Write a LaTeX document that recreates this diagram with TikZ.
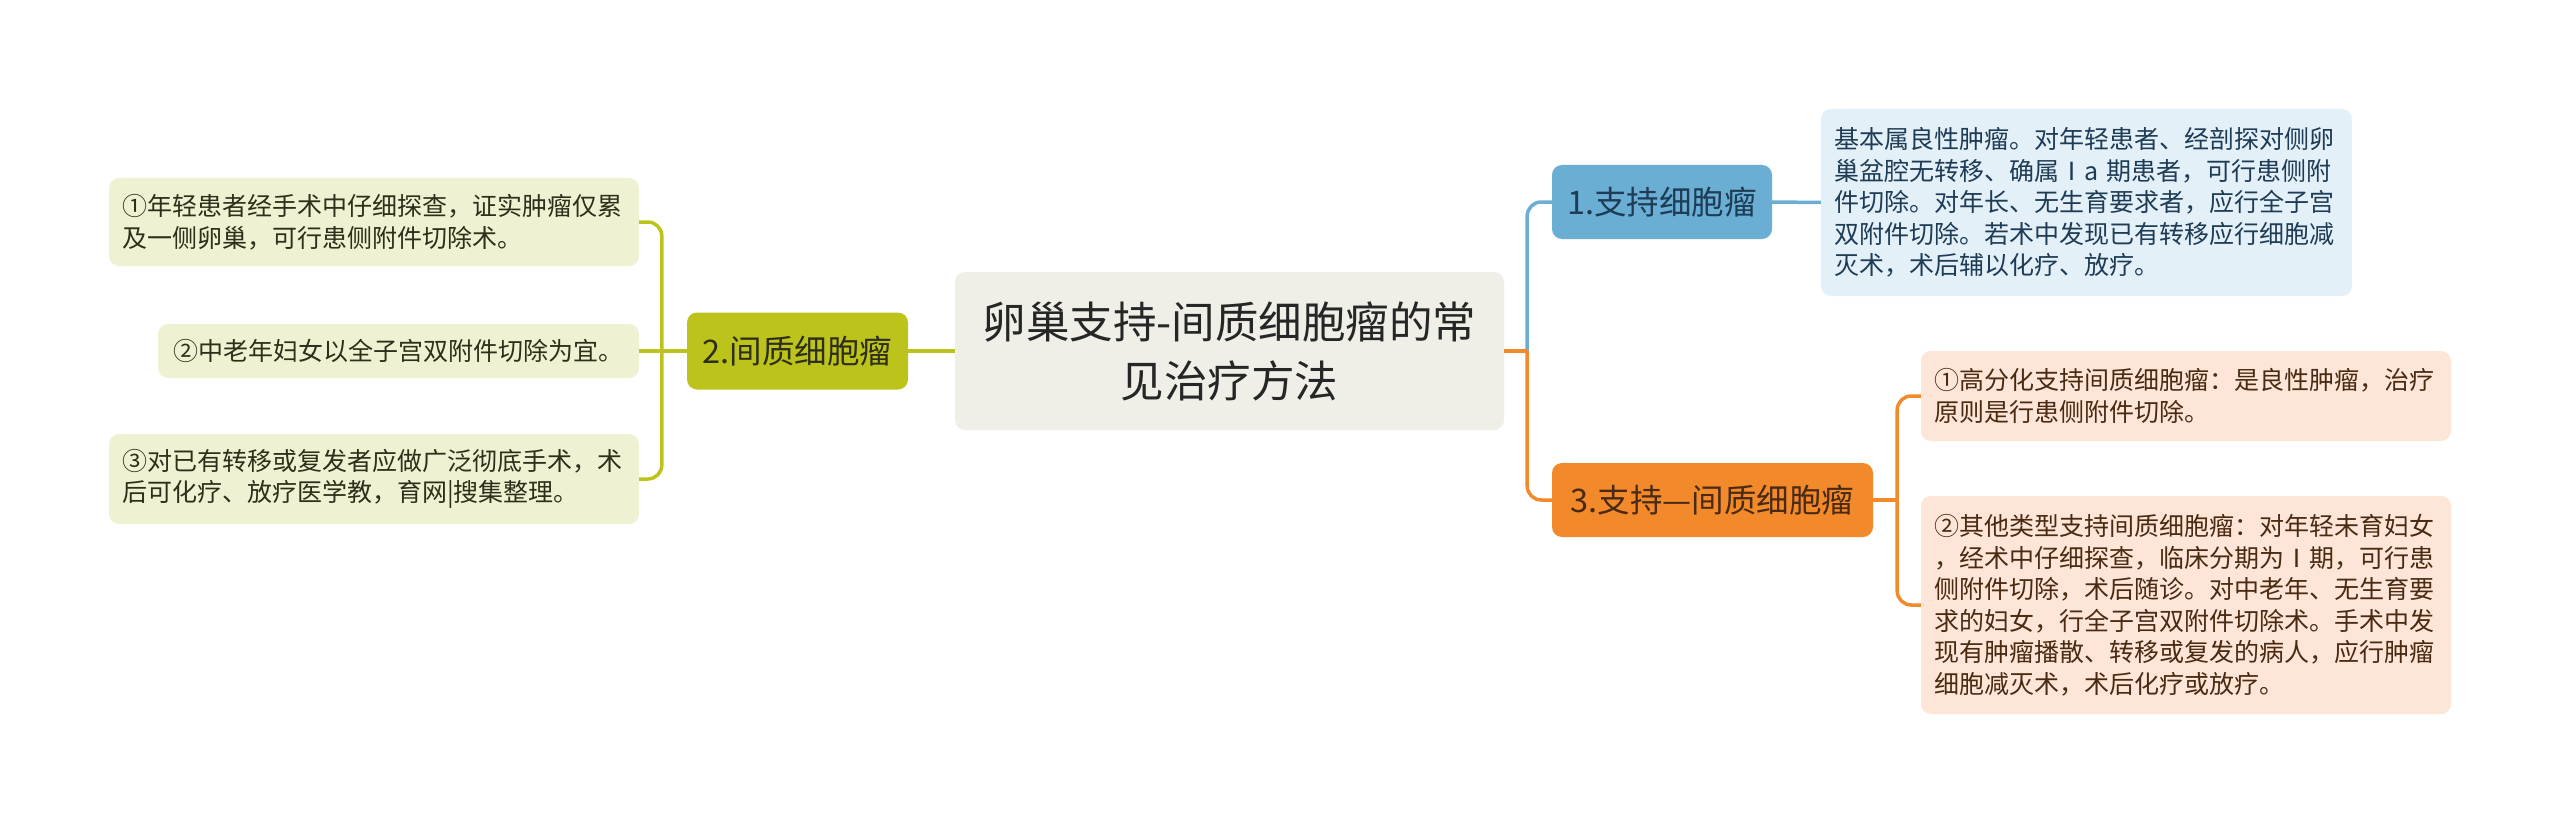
\documentclass[tikz,border=0pt]{standalone}
\usepackage{fontspec}
\newfontfamily\cjk{Noto Sans CJK SC}
\usetikzlibrary{calc}
\definecolor{olv}{HTML}{BCC41C}
\definecolor{olvleaf}{HTML}{EFF2D2}
\definecolor{olvtxt}{HTML}{2E2E1A}
\definecolor{cfill}{HTML}{EFEFE8}
\definecolor{blu}{HTML}{6AAED4}
\definecolor{bluleaf}{HTML}{E3F0F8}
\definecolor{blutxt}{HTML}{1E3C55}
\definecolor{org}{HTML}{F28A2C}
\definecolor{orgleaf}{HTML}{FDE6D7}
\definecolor{orgtxt}{HTML}{4A2A12}
\tikzset{
  basebox/.style={rounded corners=10pt, inner xsep=13pt, inner ysep=0pt, font=\cjk\fontsize{25}{31.5}\selectfont},
  leafL/.style={basebox, fill=olvleaf, text=olvtxt, align=left},
  leafB/.style={basebox, fill=bluleaf, text=blutxt, align=left},
  leafO/.style={basebox, fill=orgleaf, text=orgtxt, align=left},
  branch/.style={rounded corners=10pt, inner sep=0pt, font=\cjk\fontsize{32.5}{38}\selectfont, align=center},
  centerbox/.style={rounded corners=10pt, inner sep=0pt, fill=cfill, text=black!85, font=\cjk\fontsize{43.5}{59}\selectfont, align=center},
  oline/.style={draw=olv, line width=3.5pt},
  bline/.style={draw=blu, line width=3.5pt},
  orline/.style={draw=org, line width=3.5pt}
}
\begin{document}
\begin{tikzpicture}[x=1pt,y=-1pt]
\useasboundingbox (0,0) rectangle (2560,824);
\fill[white] (0,0) rectangle (2560,824);

% central
\node[centerbox, minimum width=549pt, minimum height=158pt] (c) at (1229.5,351) {卵巢支持-间质细胞瘤的常\\见治疗方法};

% left branch
\node[branch, fill=olv, text=olvtxt, minimum width=221pt, minimum height=77pt] (n2) at (797.5,351) {2.间质细胞瘤};
\node[leafL, text width=504pt, minimum height=88pt] (L1) at (374,222) {①年轻患者经手术中仔细探查，证实肿瘤仅累\\及一侧卵巢，可行患侧附件切除术。};
\node[leafL, align=center, text width=455pt, minimum height=54pt] (L2) at (398.5,351) {②中老年妇女以全子宫双附件切除为宜。};
\node[leafL, text width=504pt, minimum height=90pt] (L3) at (374,479) {③对已有转移或复发者应做广泛彻底手术，术\\后可化疗、放疗医学教，育网|搜集整理。};

% right branches
\node[branch, fill=blu, text=blutxt, minimum width=220pt, minimum height=74pt] (b1) at (1662,202) {1.支持细胞瘤};
\node[leafB, text width=505pt, minimum height=187pt] (bl) at (2086.5,202.5) {基本属良性肿瘤。对年轻患者、经剖探对侧卵\\巢盆腔无转移、确属Ⅰa 期患者，可行患侧附\\件切除。对年长、无生育要求者，应行全子宫\\双附件切除。若术中发现已有转移应行细胞减\\灭术，术后辅以化疗、放疗。};

\node[branch, fill=org, text=orgtxt, minimum width=321pt, minimum height=74pt] (o3) at (1712.5,500) {3.支持—间质细胞瘤};
\node[leafO, text width=504pt, minimum height=90pt] (ol1) at (2186,396) {①高分化支持间质细胞瘤：是良性肿瘤，治疗\\原则是行患侧附件切除。};
\node[leafO, text width=504pt, minimum height=218pt] (ol2) at (2186,605) {②其他类型支持间质细胞瘤：对年轻未育妇女\\，经术中仔细探查，临床分期为Ⅰ期，可行患\\侧附件切除，术后随诊。对中老年、无生育要\\求的妇女，行全子宫双附件切除术。手术中发\\现有肿瘤播散、转移或复发的病人，应行肿瘤\\细胞减灭术，术后化疗或放疗。};

% connectors left
\coordinate (lb) at ($(n2.west)+(-25pt,0)$);
\draw[oline] (c.west) -- (n2.east);
\draw[oline] (lb) -- (n2.west);
\draw[oline, rounded corners=14pt] (L1.east) -| (lb);
\draw[oline, rounded corners=14pt] (L3.east) -| (lb);
\draw[oline] (L2.east) -- (lb);

% connectors right
\coordinate (rb) at ($(c.east)+(23pt,0)$);
\draw[bline, rounded corners=14pt] (rb) |- (b1.west);
\draw[orline] (c.east) -- (rb);
\draw[orline, rounded corners=14pt] (rb) |- (o3.west);
\draw[bline] (b1.east) -- (bl.west);

\coordinate (ob) at ($(o3.east)+(24pt,0)$);
\draw[orline] (o3.east) -- (ob);
\draw[orline, rounded corners=14pt] (ob) |- (ol1.west);
\draw[orline, rounded corners=14pt] (ob) |- (ol2.west);
\end{tikzpicture}
\end{document}
